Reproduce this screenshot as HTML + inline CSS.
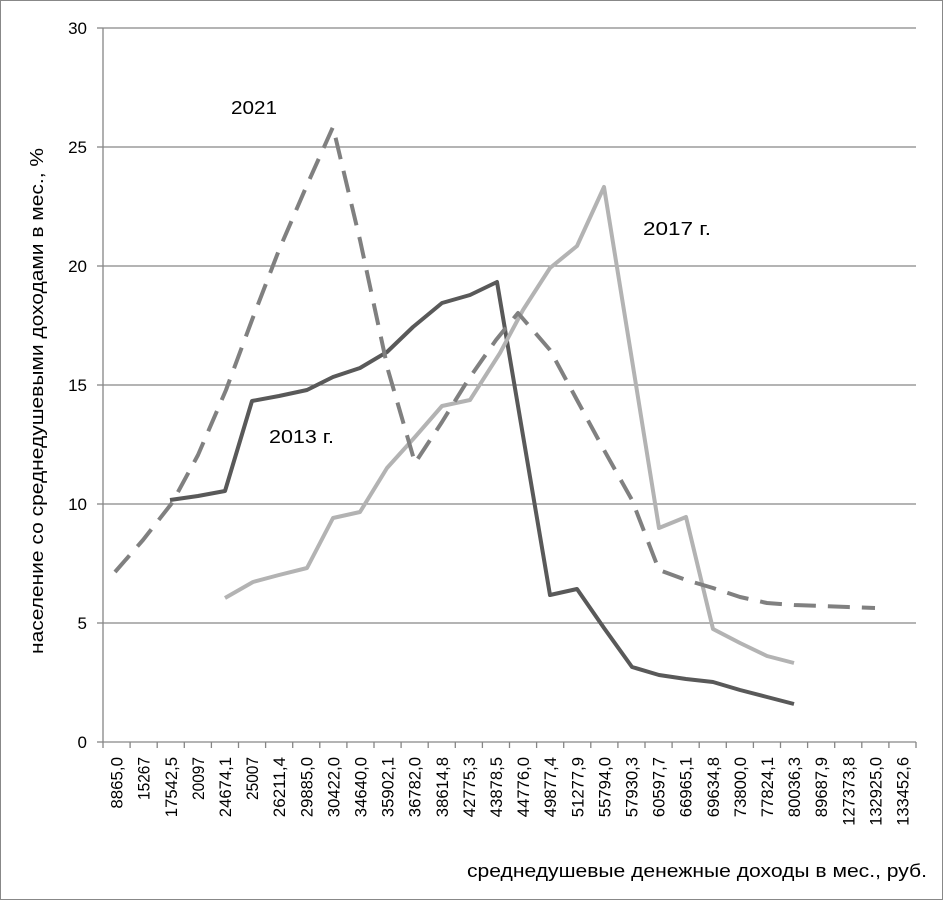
<!DOCTYPE html>
<html><head><meta charset="utf-8"><style>
body{margin:0;background:#fff}
svg{display:block}
text{font-family:"Liberation Sans",sans-serif;fill:#000}
</style></head><body>
<svg width="943" height="900" viewBox="0 0 943 900">
<rect x="0.5" y="0.5" width="942" height="899" fill="#fff" stroke="#888"/>
<g stroke="#868686" stroke-width="1.3">
<line x1="103" y1="28" x2="916" y2="28"/>
<line x1="103" y1="147" x2="916" y2="147"/>
<line x1="103" y1="266" x2="916" y2="266"/>
<line x1="103" y1="385" x2="916" y2="385"/>
<line x1="103" y1="504" x2="916" y2="504"/>
<line x1="103" y1="623" x2="916" y2="623"/>
<line x1="103" y1="742" x2="916" y2="742"/>
<line x1="103" y1="28" x2="103" y2="742"/>
<line x1="97" y1="28" x2="103" y2="28"/><line x1="97" y1="147" x2="103" y2="147"/><line x1="97" y1="266" x2="103" y2="266"/><line x1="97" y1="385" x2="103" y2="385"/><line x1="97" y1="504" x2="103" y2="504"/><line x1="97" y1="623" x2="103" y2="623"/><line x1="97" y1="742" x2="103" y2="742"/>
</g>
<g stroke="#868686" stroke-width="1.3" id="ticks"></g>
<g font-size="17" text-anchor="end">
<text x="87" y="34">30</text><text x="87" y="153">25</text><text x="87" y="272">20</text><text x="87" y="391">15</text><text x="87" y="510">10</text><text x="87" y="629">5</text><text x="87" y="748">0</text>
</g>
<g id="xl" font-size="17"></g>
<polyline fill="none" stroke="#595959" stroke-width="4" stroke-linejoin="round" points="170,500 198,496 225,491 252,401 279,396 307,390 333,377 360,368 387,352 413,327 442,303 470,295 497,282 550,595 577,589 604,628 632,667 659,675 686,679 713,682 740,690 767,697 794,704"/>
<polyline fill="none" stroke="#b3b3b3" stroke-width="4" stroke-linejoin="round" points="225,598 253,582 279,575 307,568 333,518 360,512 387,468 415,437 442,406 470,400 500,353 523,310 550,268 577,246 604,187 632,360 659,528 686,517 713,629 740,643 767,656 794,663"/>
<polyline fill="none" stroke="#808080" stroke-width="4" stroke-dasharray="22,12" stroke-linejoin="round" points="115,572 143,540 172,503 198,455 226,390 252,320 279,250 307,185 333,127 360,240 388,370 415,463 442,422 468,380 496,340 518,313 550,350 577,400 604,450 632,500 659,570 686,580 713,588 740,597 767,603 794,605 821,606 848,607 875,608"/>
<text x="231" y="114" font-size="18" textLength="46" lengthAdjust="spacingAndGlyphs">2021</text>
<text x="269" y="443" font-size="18" textLength="65" lengthAdjust="spacingAndGlyphs">2013 г.</text>
<text x="643" y="235" font-size="18" textLength="68" lengthAdjust="spacingAndGlyphs">2017 г.</text>
<text transform="translate(43,401) rotate(-90)" font-size="18" text-anchor="middle" textLength="506" lengthAdjust="spacingAndGlyphs">население со среднедушевыми доходами в мес., %</text>
<text x="467" y="877" font-size="18" textLength="460" lengthAdjust="spacingAndGlyphs">среднедушевые денежные доходы в мес., руб.</text>
</svg>
<script>
var L=["8865,0","15267","17542,5","20097","24674,1","25007","26211,4","29885,0","30422,0","34640,0","35902,1","36782,0","38614,8","42775,3","43878,5","44776,0","49877,4","51277,9","55794,0","57930,3","60597,7","66965,1","69634,8","73800,0","77824,1","80036,3","89687,9","127373,8","132925,0","133452,6"];
var ns="http://www.w3.org/2000/svg",t=document.getElementById("ticks"),x=document.getElementById("xl"),w=(916-103)/30;
for(var i=0;i<=30;i++){var l=document.createElementNS(ns,"line");var p=103+i*w;l.setAttribute("x1",p);l.setAttribute("x2",p);l.setAttribute("y1",742);l.setAttribute("y2",748);t.appendChild(l);}
for(var i=0;i<30;i++){var c=103+w/2+i*w+6;var e=document.createElementNS(ns,"text");e.setAttribute("transform","translate("+c+",757) rotate(-90)");e.setAttribute("text-anchor","end");e.textContent=L[i];var n=L[i].length;e.setAttribute("textLength",n*8.6);e.setAttribute("lengthAdjust","spacingAndGlyphs");x.appendChild(e);}
</script>
</body></html>
